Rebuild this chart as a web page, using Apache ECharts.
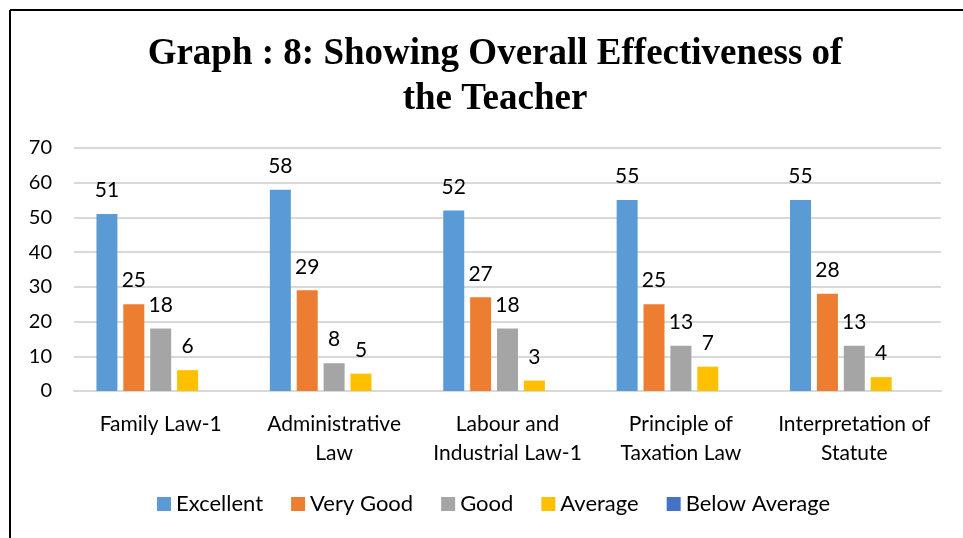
<!DOCTYPE html>
<html><head><meta charset="utf-8">
<script src="https://cdn.jsdelivr.net/npm/echarts@6/dist/echarts.min.js"></script>
<style>html,body{margin:0;padding:0;background:#fff}#c{width:963px;height:538px}</style>
</head><body><div id="c"></div>
<script>
const categories = ['Family Law-1', 'Administrative\nLaw', 'Labour and\nIndustrial Law-1', 'Principle of\nTaxation Law', 'Interpretation of\nStatute'];
const seriesNames = ['Excellent', 'Very Good', 'Good', 'Average', 'Below Average'];
const excellent = [51, 58, 52, 55, 55];
const veryGood = [25, 29, 27, 25, 28];
const good = [18, 8, 18, 13, 13];
const average = [6, 5, 3, 7, 4];
const belowAverage = [0, 0, 0, 0, 0];
const colors = ['#5B9BD5', '#ED7D31', '#A5A5A5', '#FFC000', '#4472C4'];
const values = [excellent, veryGood, good, average, belowAverage];

const font = 'Lato, "Open Sans", sans-serif';
const chart = echarts.init(document.getElementById('c'));
chart.setOption({
  animation: false,
  title: {
    text: 'Graph : 8: Showing Overall Effectiveness of\nthe Teacher',
    left: 490, textAlign: 'center', top: 27,
    textStyle: { fontFamily: '"Liberation Serif", "Times New Roman", serif', fontWeight: 'bold', fontSize: 37, lineHeight: 45, color: '#000' }
  },
  graphic: [
    { type: 'line', shape: { x1: 10, y1: 10, x2: 963, y2: 10 }, style: { stroke: '#000', lineWidth: 2 } },
    { type: 'line', shape: { x1: 10, y1: 10, x2: 10, y2: 538 }, style: { stroke: '#000', lineWidth: 2 } }
  ],
  legend: {
    data: seriesNames, bottom: 18, left: 152,
    itemWidth: 14, itemHeight: 14, itemGap: 28, icon: 'rect',
    textStyle: { fontFamily: font, fontSize: 22, color: '#000' }
  },
  grid: { left: 74, right: 22, top: 148, bottom: 147 },
  xAxis: {
    type: 'category', data: categories,
    axisLine: { lineStyle: { color: '#d9d9d9', width: 2 } },
    axisTick: { show: false },
    axisLabel: { fontFamily: font, fontSize: 21, color: '#000', lineHeight: 29, margin: 19, interval: 0 }
  },
  yAxis: {
    type: 'value', min: 0, max: 70, interval: 10,
    axisLine: { show: false }, axisTick: { show: false },
    splitLine: { lineStyle: { color: '#d9d9d9', width: 2 } },
    axisLabel: { fontFamily: font, fontSize: 20, color: '#000', margin: 22 }
  },
  series: seriesNames.map((n, i) => ({
    name: n, type: 'bar', data: values[i], barWidth: 21, barGap: '28%',
    itemStyle: { color: colors[i] },
    label: { show: i < 4, position: 'top', distance: 13, fontFamily: font, fontSize: 21, color: '#000' }
  }))
});
</script></body></html>
